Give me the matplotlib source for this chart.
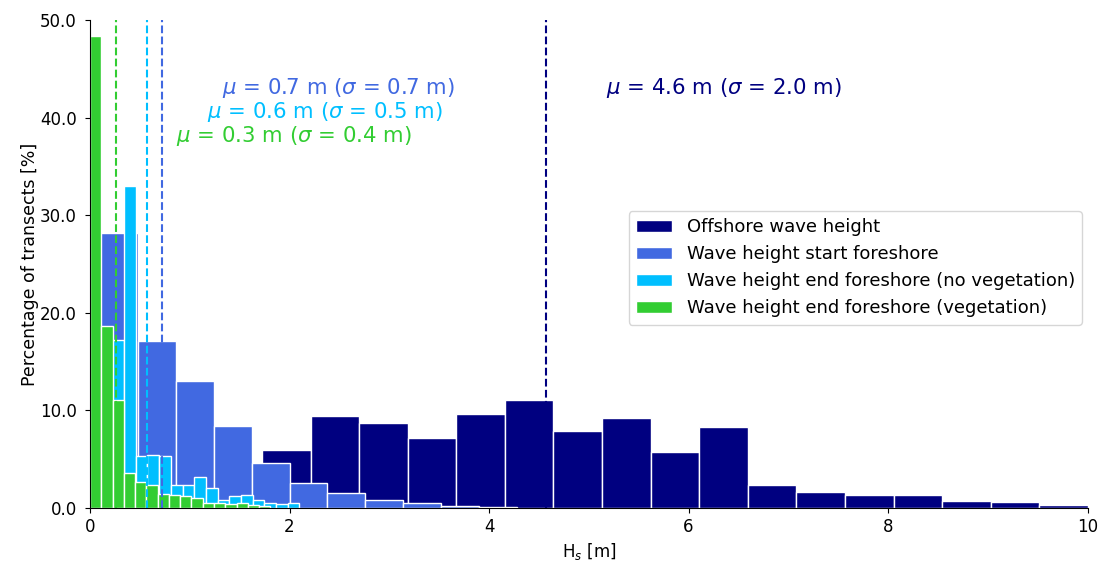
import numpy as np
import matplotlib
matplotlib.use("Agg")
import matplotlib.pyplot as plt

# bar heights [%], bins of equal width per series
offshore_start, offshore_width = 1.723, 0.487
offshore = [5.9, 9.4, 8.7, 7.2, 9.6, 11.1, 7.9, 9.2, 5.7, 8.3, 2.35, 1.65, 1.3, 1.3, 0.7, 0.6, 0.3]

start_fs_start, start_fs_width = 0.10, 0.38
start_fs = [28.2, 17.1, 13.0, 8.4, 4.6, 2.6, 1.5, 0.85, 0.5, 0.25, 0.1]

end_noveg_start, end_noveg_width = 0.225, 0.117
end_noveg = [17.2, 33.0, 5.35, 5.4, 5.35, 2.35, 2.4, 3.2, 2.1, 0.85, 1.2, 1.3, 0.8, 0.5, 0.45, 0.5]

end_veg_start, end_veg_width = 0.0, 0.113
end_veg = [48.4, 18.6, 11.1, 3.6, 2.7, 2.4, 1.4, 1.3, 1.2, 1.0, 0.55, 0.55, 0.45, 0.55, 0.3, 0.25]

labels = ["Offshore wave height", "Wave height start foreshore",
          "Wave height end foreshore (no vegetation)", "Wave height end foreshore (vegetation)"]
colors = ["navy", "royalblue", "deepskyblue", "limegreen"]
means = [4.57, 0.72, 0.57, 0.26]
mu_txt = [4.6, 0.7, 0.6, 0.3]
sigma_txt = [2.0, 0.7, 0.5, 0.4]
txt_y = [43.0, 43.0, 40.6, 38.1]

series = [(offshore_start, offshore_width, offshore),
          (start_fs_start, start_fs_width, start_fs),
          (end_noveg_start, end_noveg_width, end_noveg),
          (end_veg_start, end_veg_width, end_veg)]

fig = plt.figure(figsize=(11.02, 5.62), dpi=100)
ax = fig.add_axes([0.0817, 0.096, 0.9053, 0.8684])

for (s, w, h), c, lab in zip(series, colors, labels):
    edges = s + w * np.arange(len(h) + 1)
    ax.hist(edges[:-1], bins=edges, weights=h, color=c, edgecolor="white",
            linewidth=1, label=lab)

for m, c, mu, sg, ty in zip(means, colors, mu_txt, sigma_txt, txt_y):
    ax.axvline(m, color=c, linestyle="--", linewidth=1.5)
    ax.text(m + 0.6, ty, r"$\mu$ = %.1f m ($\sigma$ = %.1f m)" % (mu, sg),
            color=c, fontsize=15.3, ha="left", va="center")

ax.set_xlim(0, 10)
ax.set_ylim(0, 50)
ax.set_yticks(np.arange(0, 51, 10))
ax.yaxis.set_major_formatter(matplotlib.ticker.FormatStrFormatter("%.1f"))
ax.tick_params(labelsize=12)
ax.tick_params(axis="y", pad=6)
ax.spines["top"].set_visible(False)
ax.spines["right"].set_visible(False)
ax.set_xlabel(r"H$_s$ [m]", fontsize=12)
ax.set_ylabel("Percentage of transects [%]", fontsize=12.5, labelpad=1)
ax.legend(loc="upper left", bbox_to_anchor=(0.531, 0.627), fontsize=13)

fig.savefig("out.png", dpi=100)
